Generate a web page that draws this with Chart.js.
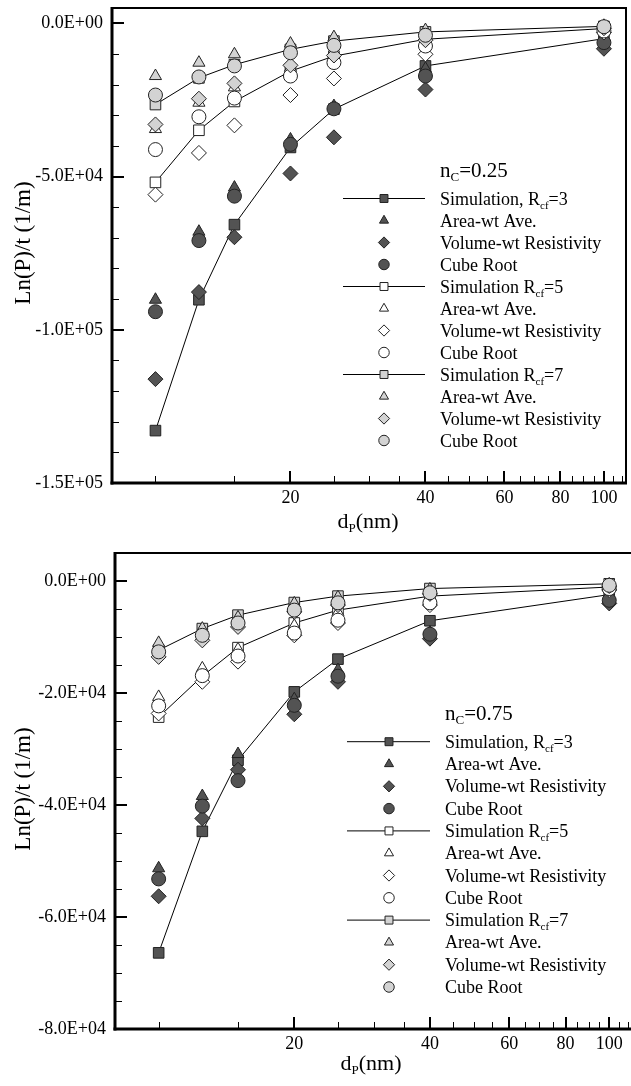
<!DOCTYPE html>
<html>
<head>
<meta charset="utf-8">
<script src="https://cdn.jsdelivr.net/npm/chart.js@4.4.1/dist/chart.umd.min.js"></script>
<style>
  html, body { margin: 0; padding: 0; background: #fff; overflow: hidden; width: 631px; height: 1086px; }
  canvas { position: absolute; left: 0; }
  #chartLow { top: 0; }
  #chartHigh { top: 545px; }
</style>
</head>
<body>
<canvas id="chartLow" width="631" height="545"></canvas>
<canvas id="chartHigh" width="640" height="541"></canvas>
<script>
// Particle diameters d_P (nm)
const diameters = [10, 12.5, 15, 20, 25, 40, 100];

// Axis ticks
const xMajorTicks = [20, 40, 60, 80, 100];
const xMinorTicks = [10, 15, 25, 30, 35, 45, 50, 55, 65, 70, 75, 85, 90, 95, 105, 110];
const lowYMajor = [0, -50000, -100000, -150000];
const lowYMinor = [-10000, -20000, -30000, -40000, -60000, -70000, -80000, -90000, -110000, -120000, -130000, -140000];
const highYMajor = [0, -20000, -40000, -60000, -80000];
const highYMinor = [-5000, -10000, -15000, -25000, -30000, -35000, -45000, -50000, -55000, -65000, -70000, -75000];

// n_C = 0.25 : Ln(P)/t (1/m)
const lowSimR3  = [-132900, -90200, -65700, -40500, -28000, -13900, -5000];
const lowAreaR3 = [-90200, -68000, -53600, -37900, -27000, -14800, -5500];
const lowVolR3  = [-116100, -87700, -69800, -49000, -37200, -21600, -8300];
const lowCubeR3 = [-94100, -70900, -56400, -39500, -27900, -17200, -6300];
const lowSimR5  = [-51900, -34900, -25500, -15600, -10700, -5200, -1700];
const lowAreaR5 = [-34500, -25900, -20900, -14500, -10000, -5800, -1500];
const lowVolR5  = [-55900, -42300, -33300, -23400, -18000, -10100, -3000];
const lowCubeR5 = [-41200, -30500, -24400, -17200, -12800, -7400, -2500];
const lowSimR7  = [-26500, -17800, -13500, -8500, -5800, -2800, -1000];
const lowAreaR7 = [-17200, -12850, -10100, -6600, -4500, -2200, -800];
const lowVolR7  = [-33000, -24600, -19600, -13700, -10500, -5500, -1600];
const lowCubeR7 = [-23400, -17500, -13900, -9600, -7200, -3900, -1100];

// n_C = 0.75 : Ln(P)/t (1/m)
const highSimR3  = [-66400, -44700, -32000, -19800, -13950, -7100, -2430];
const highAreaR3 = [-51300, -38400, -30900, -21100, -15900, -9200, -3000];
const highVolR3  = [-56300, -42400, -33700, -23800, -18000, -10300, -4000];
const highCubeR3 = [-53200, -40200, -35650, -22200, -17000, -9500, -3450];
const highSimR5  = [-24300, -17000, -11900, -7500, -5200, -2700, -1070];
const highAreaR5 = [-20700, -15600, -12200, -8000, -5600, -3000, -1200];
const highVolR5  = [-23650, -18000, -14400, -9700, -7500, -4300, -1600];
const highCubeR5 = [-22300, -16900, -13400, -9300, -7000, -3900, -1350];
const highSimR7  = [-12350, -8500, -6100, -3850, -2700, -1350, -500];
const highAreaR7 = [-11050, -8500, -6500, -4000, -2900, -1500, -600];
const highVolR7  = [-13550, -10600, -8200, -5500, -4300, -2300, -900];
const highCubeR7 = [-12650, -9700, -7500, -5200, -3900, -2100, -770];

// Legend entries (rich text: [text, isSubscript])
const legendEntries = [
  [['Simulation, R'], ['cf', true], ['=3']],
  [['Area-wt Ave.']],
  [['Volume-wt Resistivity']],
  [['Cube Root']],
  [['Simulation R'], ['cf', true], ['=5']],
  [['Area-wt Ave.']],
  [['Volume-wt Resistivity']],
  [['Cube Root']],
  [['Simulation R'], ['cf', true], ['=7']],
  [['Area-wt Ave.']],
  [['Volume-wt Resistivity']],
  [['Cube Root']]
];

const SERIF = "'Liberation Serif', 'Times New Roman', 'DejaVu Serif', serif";
const FILLS = ['#535353', '#ffffff', '#d3d3d3'];
const SHAPES = ['rect', 'triangle', 'rectRot', 'circle'];
const RADII = [7.5, 7, 7.5, 7];

function sci(v) {
  if (v === 0) return '0.0E+00';
  const parts = v.toExponential(1).split('e');
  const n = parseInt(parts[1], 10);
  return parts[0] + 'E' + (n < 0 ? '-' : '+') + String(Math.abs(n)).padStart(2, '0');
}

function makeDatasets(series) {
  return series.map((vals, i) => {
    const k = i % 4;
    return {
      label: legendEntries[i].map(p => p[0]).join(''),
      data: diameters.map((d, j) => ({ x: d, y: vals[j] })),
      showLine: k === 0,
      borderColor: '#000',
      borderWidth: 1,
      pointStyle: SHAPES[k],
      pointRadius: RADII[k],
      pointBackgroundColor: FILLS[Math.floor(i / 4)],
      pointBorderColor: '#222',
      pointBorderWidth: 1,
      order: -i
    };
  });
}

function drawRich(ctx, parts, x, baseline, size, subSize) {
  let cx = x;
  parts.forEach(p => {
    const sub = !!p[1];
    ctx.font = (sub ? subSize : size) + 'px ' + SERIF;
    ctx.fillText(p[0], cx, sub ? baseline + 4 : baseline);
    cx += ctx.measureText(p[0]).width;
  });
  return cx - x;
}

function markerPath(ctx, shape, x, y, r) {
  ctx.beginPath();
  if (shape === 'circle') {
    ctx.arc(x, y, r, 0, Math.PI * 2);
  } else if (shape === 'rect') {
    const s = r * Math.SQRT1_2;
    ctx.rect(x - s, y - s, 2 * s, 2 * s);
  } else if (shape === 'triangle') {
    for (let a = 0; a < 3; a++) {
      const rad = a * 2 * Math.PI / 3;
      const px = x + Math.sin(rad) * r, py = y - Math.cos(rad) * r;
      if (a === 0) ctx.moveTo(px, py); else ctx.lineTo(px, py);
    }
    ctx.closePath();
  } else {
    ctx.moveTo(x - r, y); ctx.lineTo(x, y - r); ctx.lineTo(x + r, y); ctx.lineTo(x, y + r);
    ctx.closePath();
  }
}

const decorPlugin = {
  id: 'decor',
  afterDraw(chart) {
    const cfg = chart.options.plugins.decor;
    const ctx = chart.ctx;
    const a = chart.chartArea;
    const xs = chart.scales.x, ys = chart.scales.y;
    ctx.save();
    ctx.strokeStyle = '#000';
    ctx.fillStyle = '#000';
    const seg = (x0, y0, x1, y1) => { ctx.beginPath(); ctx.moveTo(x0, y0); ctx.lineTo(x1, y1); ctx.stroke(); };

    // inward tick marks
    ctx.lineWidth = 1;
    cfg.yMinor.forEach(v => { const p = Math.round(ys.getPixelForValue(v)) + 0.5; seg(a.left, p, a.left + 7, p); });
    xMinorTicks.forEach(v => { const p = Math.round(xs.getPixelForValue(v)) + 0.5; if (p < a.right) seg(p, a.bottom, p, a.bottom - 7); });
    ctx.lineWidth = 2;
    cfg.yMajor.forEach(v => { const p = Math.round(ys.getPixelForValue(v)); seg(a.left, p, a.left + 12, p); });
    xMajorTicks.forEach(v => { const p = Math.round(xs.getPixelForValue(v)); seg(p, a.bottom, p, a.bottom - 12); });

    // frame: top and right edges thin, axis edges heavy
    ctx.lineWidth = 2;
    seg(a.left, a.top, a.right + 1, a.top);
    if (cfg.rightEdge) seg(a.right, a.top, a.right, a.bottom);
    ctx.lineWidth = 3;
    seg(a.left, a.top - 1, a.left, a.bottom + 1.5);
    seg(a.left - 1.5, a.bottom, a.right + 1, a.bottom);

    // axis titles
    ctx.textBaseline = 'alphabetic';
    ctx.textAlign = 'left';
    ctx.font = '22px ' + SERIF;
    const w1 = ctx.measureText('d').width, w2 = ctx.measureText('(nm)').width;
    ctx.font = '13px ' + SERIF;
    const ws = ctx.measureText('P').width;
    const xt0 = cfg.xTitleX - (w1 + ws + w2) / 2;
    drawRich(ctx, [['d'], ['P', true], ['(nm)']], xt0, cfg.xTitleBase, 22, 13);

    ctx.save();
    ctx.translate(cfg.yTitleX, cfg.yTitleY);
    ctx.rotate(-Math.PI / 2);
    ctx.font = '23px ' + SERIF;
    ctx.textAlign = 'center';
    ctx.textBaseline = 'middle';
    ctx.fillText('Ln(P)/t (1/m)', 0, 0);
    ctx.restore();

    // legend
    ctx.textAlign = 'left';
    ctx.textBaseline = 'alphabetic';
    drawRich(ctx, cfg.heading, cfg.textX, cfg.headingY + 7, 21, 13);
    chart.data.datasets.forEach((ds, i) => {
      const y = cfg.rowY0 + i * cfg.rowStep;
      if (ds.showLine) {
        ctx.lineWidth = 1;
        ctx.strokeStyle = '#000';
        seg(cfg.lineX0, y, cfg.lineX1, y);
      }
      markerPath(ctx, ds.pointStyle, cfg.markX, y, ds.pointRadius * 0.75);
      ctx.fillStyle = ds.pointBackgroundColor;
      ctx.fill();
      ctx.lineWidth = 1;
      ctx.strokeStyle = '#222';
      ctx.stroke();
      ctx.fillStyle = '#000';
      drawRich(ctx, legendEntries[i], cfg.textX, y + 6, 18, 11);
    });
    ctx.restore();
  }
};

function makeChart(id, series, yMin, yMajor, yMinor, geom, decor) {
  return new Chart(document.getElementById(id), {
    type: 'scatter',
    data: { datasets: makeDatasets(series) },
    options: {
      responsive: false,
      animation: false,
      devicePixelRatio: 1,
      events: [],
      layout: { autoPadding: false, padding: geom.padding },
      plugins: { legend: { display: false }, tooltip: { enabled: false }, decor: decor },
      scales: {
        x: {
          type: 'logarithmic',
          min: 8, max: 112,
          grid: { display: false, drawTicks: false },
          border: { display: false },
          afterBuildTicks: s => { s.ticks = xMajorTicks.map(v => ({ value: v })); },
          afterFit: s => { s.height = geom.xHeight; s.paddingLeft = 0; s.paddingRight = 0; },
          ticks: {
            autoSkip: false, maxRotation: 0, minRotation: 0, padding: 4,
            color: '#000', font: { family: SERIF, size: 18 },
            callback: v => String(v)
          }
        },
        y: {
          type: 'linear',
          min: yMin, max: 5000,
          grid: { display: false, drawTicks: false },
          border: { display: false },
          afterBuildTicks: s => { s.ticks = yMajor.map(v => ({ value: v })); },
          afterFit: s => { s.width = geom.yWidth; s.paddingTop = 0; s.paddingBottom = 0; },
          ticks: {
            autoSkip: false, padding: 9,
            color: '#000', font: { family: SERIF, size: 18 },
            callback: v => sci(v)
          }
        }
      }
    },
    plugins: [decorPlugin]
  });
}

makeChart('chartLow',
  [lowSimR3, lowAreaR3, lowVolR3, lowCubeR3, lowSimR5, lowAreaR5, lowVolR5, lowCubeR5, lowSimR7, lowAreaR7, lowVolR7, lowCubeR7],
  -150000, lowYMajor, lowYMinor,
  { padding: { top: 8, right: 5, left: 0, bottom: 0 }, xHeight: 62, yWidth: 112 },
  { yMajor: lowYMajor, yMinor: lowYMinor, xTitleX: 368, xTitleBase: 528, yTitleX: 24, yTitleY: 243, rightEdge: true,
    heading: [['n'], ['C', true], ['=0.25']], headingY: 170, textX: 440, markX: 384, lineX0: 343, lineX1: 425,
    rowY0: 198.5, rowStep: 22 });

makeChart('chartHigh',
  [highSimR3, highAreaR3, highVolR3, highCubeR3, highSimR5, highAreaR5, highVolR5, highCubeR5, highSimR7, highAreaR7, highVolR7, highCubeR7],
  -80000, highYMajor, highYMinor,
  { padding: { top: 8, right: 8.6, left: 0, bottom: 0 }, xHeight: 57, yWidth: 115 },
  { yMajor: highYMajor, yMinor: highYMinor, xTitleX: 371, xTitleBase: 525, yTitleX: 24, yTitleY: 244, rightEdge: false,
    heading: [['n'], ['C', true], ['=0.75']], headingY: 168, textX: 445, markX: 389, lineX0: 347, lineX1: 430,
    rowY0: 196.7, rowStep: 22.3 });
</script>
</body>
</html>
